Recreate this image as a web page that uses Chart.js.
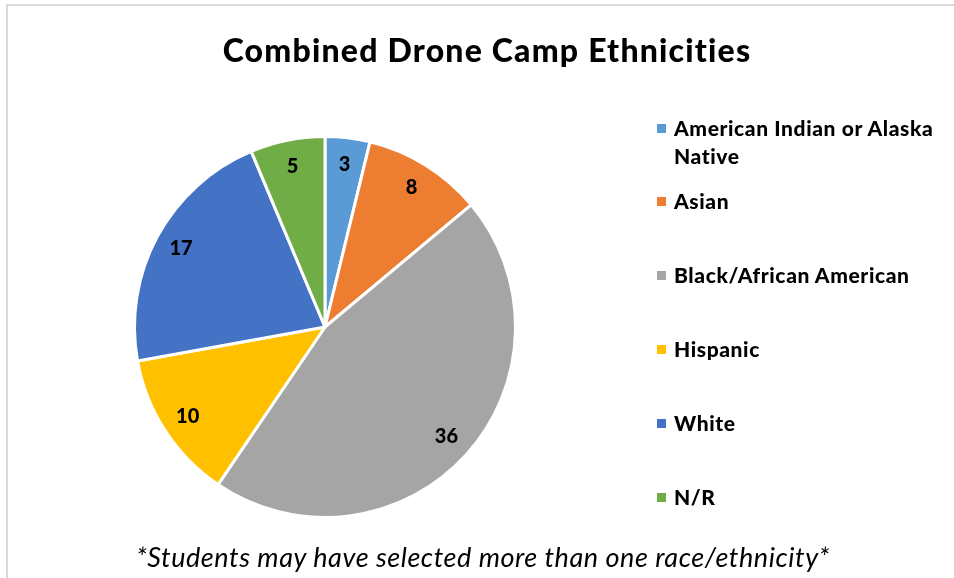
<!DOCTYPE html>
<html>
<head>
<meta charset="utf-8">
<script src="https://cdn.jsdelivr.net/npm/chart.js@4"></script>
<style>
  html, body { margin: 0; padding: 0; background: #fff; overflow: hidden; }
  body { width: 954px; height: 578px; position: relative; font-family: Lato, "Open Sans", sans-serif; }
  #frame { position: absolute; left: 6px; top: 4px; width: 1000px; height: 700px;
           border-top: 2px solid #d9d9d9; border-left: 2px solid #d9d9d9; }
  #wrap { position: absolute; left: 0; top: 0; width: 954px; height: 578px; }
  #title { position: absolute; left: 0; width: 974px; top: 29px; text-align: center;
           font-weight: 900; font-size: 32px; letter-spacing: 1.2px; line-height: 42px; color: #000; }
  #note { position: absolute; left: 0; width: 966px; top: 540px; text-align: center;
          font-style: italic; font-size: 27px; letter-spacing: 0.55px; line-height: 34px; color: #000; }
  #legend { position: absolute; left: 657px; top: 114px; width: 295px; margin: 0; padding: 0; list-style: none; }
  #legend li { position: relative; padding-left: 17px; font-weight: 900; font-size: 21px; letter-spacing: 0.6px; line-height: 28px; color: #000; margin-top: 46px; }
  #legend li:first-child { margin-top: 0; }
  #legend li:nth-child(2) { margin-top: 17px; }
  #legend li span.box { position: absolute; left: 0; top: 10px; width: 9px; height: 9px; }
</style>
</head>
<body>
<div id="frame"></div>
<div id="wrap"><canvas id="c" width="954" height="578"></canvas></div>
<div id="title"></div>
<ul id="legend"></ul>
<div id="note"></div>
<script>
const chartTitle = "Combined Drone Camp Ethnicities";
const footnote = "*Students may have selected more than one race/ethnicity*";
const categories = ["American Indian or Alaska Native", "Asian", "Black/African American", "Hispanic", "White", "N/R"];
const counts = [3, 8, 36, 10, 17, 5];
const sliceColors = ["#5B9BD5", "#ED7D31", "#A5A5A5", "#FFC000", "#4472C4", "#70AD47"];

document.getElementById('title').textContent = chartTitle;
document.getElementById('note').textContent = footnote;

const labelPlugin = {
  id: 'sliceLabels',
  afterDatasetsDraw(chart) {
    const ctx = chart.ctx;
    const meta = chart.getDatasetMeta(0);
    const data = chart.data.datasets[0].data;
    ctx.save();
    ctx.font = '900 20px Lato, "Open Sans", sans-serif';
    ctx.fillStyle = '#000';
    ctx.textAlign = 'center';
    ctx.textBaseline = 'middle';
    meta.data.forEach((arc, i) => {
      const p = arc.getProps(['x', 'y', 'startAngle', 'endAngle', 'outerRadius'], true);
      const mid = (p.startAngle + p.endAngle) / 2;
      const r = p.outerRadius * 0.86;
      ctx.fillText(String(data[i]), p.x + Math.cos(mid) * r, p.y + Math.sin(mid) * r);
    });
    ctx.restore();
  }
};

const chart = new Chart(document.getElementById('c'), {
  type: 'pie',
  data: {
    labels: categories,
    datasets: [{
      data: counts,
      backgroundColor: sliceColors,
      borderColor: '#ffffff',
      borderWidth: 3,
      hoverOffset: 0
    }]
  },
  options: {
    responsive: false,
    animation: false,
    events: [],
    layout: { padding: { left: 133, right: 437, top: 135, bottom: 59 } },
    plugins: {
      legend: { display: false },
      title: { display: false },
      tooltip: { enabled: false }
    }
  },
  plugins: [labelPlugin]
});

const legendEl = document.getElementById('legend');
categories.forEach((name, i) => {
  const li = document.createElement('li');
  const box = document.createElement('span');
  box.className = 'box';
  box.style.background = sliceColors[i];
  li.appendChild(box);
  li.appendChild(document.createTextNode(name));
  legendEl.appendChild(li);
});
</script>
</body>
</html>
